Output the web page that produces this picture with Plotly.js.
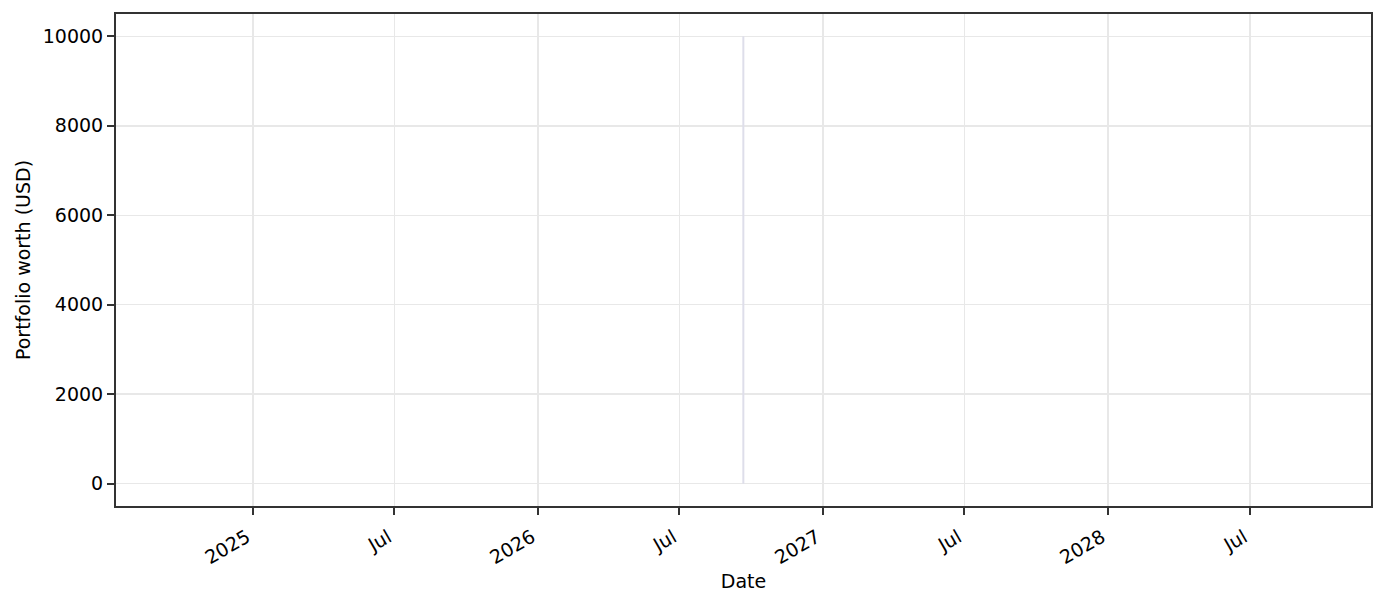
<!DOCTYPE html>
<html>
<head>
<meta charset="utf-8">
<script src="https://cdn.plot.ly/plotly-3.0.1.min.js"></script>
<style>
html, body { margin: 0; padding: 0; background: #fff; }
#chart { width: 1385px; height: 602px; }
</style>
</head>
<body>
<div id="chart"></div>
<script>
// the only record: one date, worth drawn as a vertical stroke 0 -> 10000
var dates = ['2026-09-21', '2026-09-21'];
var worth = [0, 10000];

var tickDates = ['2025-01-01', '2025-07-01', '2026-01-01', '2026-07-01',
                 '2027-01-01', '2027-07-01', '2028-01-01', '2028-07-01'];
var tickLabels = ['2025', 'Jul', '2026', 'Jul', '2027', 'Jul', '2028', 'Jul'];
var yTicks = [0, 2000, 4000, 6000, 8000, 10000];

var axisColor = '#333333';
var gridColor = '#e8e8e8';

var plotData = [{
    type: 'scatter',
    mode: 'lines',
    x: dates,
    y: worth,
    line: {color: 'rgb(222,222,234)', width: 2},
    hoverinfo: 'skip',
    showlegend: false
}];

var layout = {
    width: 1385,
    height: 602,
    margin: {l: 116, r: 14, t: 14, b: 96},
    paper_bgcolor: '#ffffff',
    plot_bgcolor: '#ffffff',
    font: {family: 'DejaVu Sans, sans-serif', size: 19, color: '#000'},
    showlegend: false,
    xaxis: {
        type: 'date',
        range: ['2024-07-09 12:00', '2028-12-02 22:00'],
        tickmode: 'array',
        tickvals: tickDates,
        ticktext: tickLabels,
        tickangle: -30,
        ticklabelshift: -6,
        ticklabelstandoff: 4,
        ticks: 'outside',
        ticklen: 7,
        tickwidth: 2,
        tickcolor: axisColor,
        showline: true,
        mirror: true,
        linecolor: axisColor,
        linewidth: 2,
        showgrid: true,
        gridcolor: gridColor,
        gridwidth: 1.5,
        zeroline: false,
        title: {text: 'Date', font: {size: 19}, standoff: 8}
    },
    yaxis: {
        range: [-500, 10500],
        tickmode: 'array',
        tickvals: yTicks,
        ticktext: yTicks.map(String),
        ticks: 'outside',
        ticklen: 7,
        tickwidth: 2,
        tickcolor: axisColor,
        showline: true,
        mirror: true,
        linecolor: axisColor,
        linewidth: 2,
        showgrid: true,
        gridcolor: gridColor,
        gridwidth: 1.5,
        zeroline: false,
        title: {text: 'Portfolio worth (USD)', font: {size: 19}, standoff: 7}
    }
};

Plotly.newPlot('chart', plotData, layout, {displayModeBar: false, staticPlot: true});
</script>
</body>
</html>
